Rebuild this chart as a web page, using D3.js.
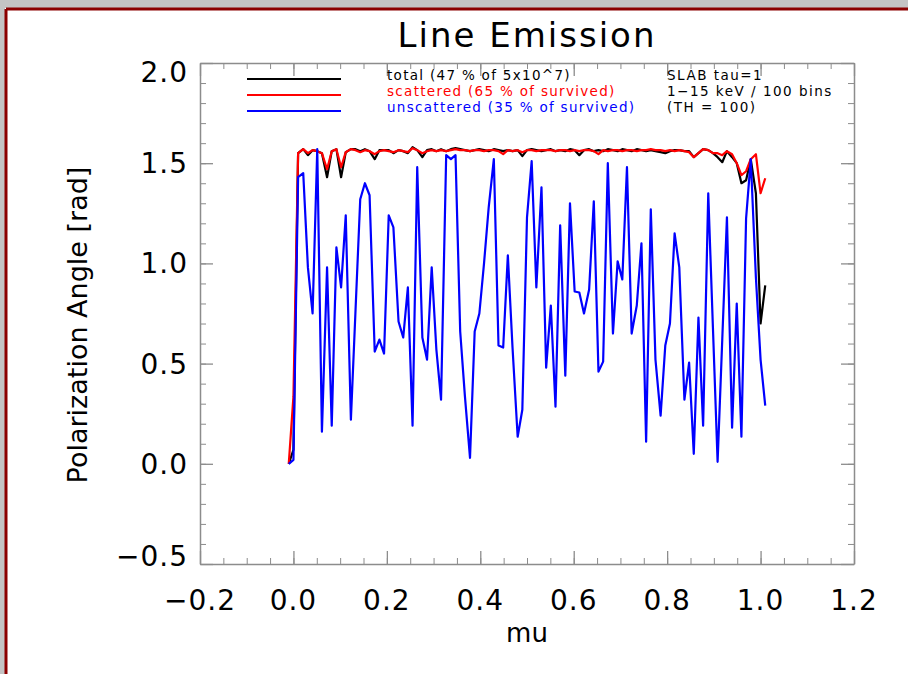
<!DOCTYPE html>
<html>
<head>
<meta charset="utf-8">
<script src="https://cdnjs.cloudflare.com/ajax/libs/d3/7.8.5/d3.min.js"></script>
<style>
  body { margin: 0; background: #c4c4c4; }
  svg { display: block; }
</style>
</head>
<body>
<svg width="908" height="674"></svg>
<script>
// Bin centres in mu (101 bins).
let mu = [
  -0.010, 0.000, 0.010, 0.021, 0.031, 0.041, 0.051, 0.061, 0.072, 0.082,
  0.092, 0.102, 0.112, 0.123, 0.133, 0.143, 0.153, 0.163, 0.174, 0.184,
  0.194, 0.204, 0.214, 0.225, 0.235, 0.245, 0.255, 0.265, 0.276, 0.286,
  0.296, 0.306, 0.316, 0.327, 0.337, 0.347, 0.357, 0.367, 0.378, 0.388,
  0.398, 0.408, 0.418, 0.429, 0.439, 0.449, 0.459, 0.469, 0.480, 0.490,
  0.500, 0.510, 0.520, 0.531, 0.541, 0.551, 0.561, 0.571, 0.582, 0.592,
  0.602, 0.612, 0.622, 0.633, 0.643, 0.653, 0.663, 0.673, 0.684, 0.694,
  0.704, 0.714, 0.724, 0.735, 0.745, 0.755, 0.765, 0.775, 0.786, 0.796,
  0.806, 0.816, 0.826, 0.837, 0.847, 0.857, 0.867, 0.877, 0.888, 0.898,
  0.908, 0.918, 0.928, 0.939, 0.949, 0.959, 0.969, 0.979, 0.990, 1.000,
  1.010
];

// Polarization angle, total.
let total = [
  0.00, 0.07, 1.55, 1.57, 1.54, 1.565, 1.56, 1.55, 1.43, 1.56,
  1.57, 1.43, 1.555, 1.57, 1.57, 1.56, 1.57, 1.56, 1.52, 1.565,
  1.565, 1.565, 1.55, 1.565, 1.56, 1.55, 1.58, 1.565, 1.53, 1.565,
  1.57, 1.56, 1.57, 1.56, 1.57, 1.575, 1.57, 1.565, 1.56, 1.565,
  1.57, 1.565, 1.56, 1.57, 1.565, 1.56, 1.565, 1.56, 1.565, 1.535,
  1.565, 1.57, 1.565, 1.56, 1.565, 1.57, 1.56, 1.565, 1.56, 1.57,
  1.565, 1.54, 1.565, 1.57, 1.56, 1.565, 1.56, 1.57, 1.565, 1.56,
  1.57, 1.565, 1.56, 1.57, 1.565, 1.56, 1.565, 1.56, 1.555, 1.55,
  1.56, 1.565, 1.565, 1.56, 1.56, 1.53, 1.55, 1.57, 1.565, 1.55,
  1.53, 1.505, 1.56, 1.53, 1.50, 1.40, 1.415, 1.52, 1.35, 0.70,
  0.89
];

// Polarization angle, scattered photons.
let scattered = [
  0.00, 0.335, 1.55, 1.57, 1.55, 1.565, 1.56, 1.55, 1.47, 1.56,
  1.57, 1.48, 1.555, 1.57, 1.565, 1.555, 1.565, 1.56, 1.545, 1.56,
  1.565, 1.56, 1.555, 1.565, 1.56, 1.555, 1.575, 1.565, 1.55, 1.56,
  1.565, 1.56, 1.565, 1.56, 1.565, 1.57, 1.565, 1.565, 1.56, 1.565,
  1.565, 1.56, 1.565, 1.565, 1.56, 1.545, 1.565, 1.56, 1.565, 1.555,
  1.565, 1.565, 1.56, 1.565, 1.565, 1.565, 1.56, 1.565, 1.565, 1.56,
  1.565, 1.56, 1.565, 1.565, 1.56, 1.545, 1.565, 1.56, 1.565, 1.565,
  1.56, 1.565, 1.565, 1.56, 1.565, 1.565, 1.57, 1.565, 1.565, 1.56,
  1.565, 1.56, 1.565, 1.56, 1.555, 1.53, 1.55, 1.57, 1.565, 1.55,
  1.55, 1.54, 1.56, 1.545, 1.50, 1.44, 1.46, 1.52, 1.545, 1.35,
  1.425
];

// Polarization angle, unscattered photons.
let unscattered = [
  0.00, 0.02, 1.43, 1.45, 0.98, 0.75, 1.57, 0.16, 0.98, 0.19,
  1.08, 0.88, 1.24, 0.22, 0.77, 1.32, 1.40, 1.34, 0.56, 0.62,
  0.55, 1.24, 1.18, 0.71, 0.63, 0.88, 0.19, 1.48, 0.63, 0.52,
  0.98, 0.57, 0.32, 1.54, 1.52, 1.54, 0.66, 0.34, 0.03, 0.66,
  0.75, 1.00, 1.28, 1.52, 0.59, 0.58, 1.04, 0.58, 0.135, 0.27,
  1.23, 1.51, 0.88, 1.38, 0.48, 0.79, 0.285, 1.19, 0.44, 1.30,
  0.86, 0.855, 0.75, 0.87, 1.31, 0.46, 0.51, 1.50, 0.65, 1.01,
  0.92, 1.48, 0.65, 0.79, 1.10, 0.11, 1.27, 0.52, 0.24, 0.59,
  0.70, 1.15, 0.98, 0.32, 0.505, 0.05, 0.73, 0.19, 1.35, 0.68,
  0.01, 0.62, 1.23, 0.18, 0.80, 0.135, 1.225, 1.52, 0.93, 0.52,
  0.29
];

// Tick values.
let x_ticks = [-0.2, 0.0, 0.2, 0.4, 0.6, 0.8, 1.0, 1.2];
let y_ticks = [-0.5, 0.0, 0.5, 1.0, 1.5, 2.0];

// Legend entries.
let legend_labels = ["total (47 % of 5x10^7)", "scattered (65 % of survived)", "unscattered (35 % of survived)"];
let legend_colours = ["#000000", "#ff0000", "#0000ff"];
let note_lines = ["SLAB tau=1", "1\u221215 keV / 100 bins", "(TH = 100)"];

// Graphical parameters.
let svg = d3.select("svg");
let font = "DejaVu Sans, sans-serif";
let plot = { left: 200, right: 854, top: 63, bottom: 564 };
let axis_colour = "#8c8c8c";

// Window frame: grey margin with dark red edge.
svg.append("rect").attr("x", 0).attr("y", 0).attr("width", 908).attr("height", 674).attr("fill", "#c4c4c4");
svg.append("rect").attr("x", 5).attr("y", 8).attr("width", 903).attr("height", 666).attr("fill", "#ffffff");
svg.append("line").attr("x1", 6).attr("y1", 9).attr("x2", 908).attr("y2", 9)
    .style("stroke", "#8b0000").style("stroke-width", 3);
svg.append("line").attr("x1", 6).attr("y1", 9).attr("x2", 6).attr("y2", 674)
    .style("stroke", "#8b0000").style("stroke-width", 3);

// Scales.
let x = d3.scaleLinear().domain([-0.2, 1.2]).range([plot.left, plot.right]);
let y = d3.scaleLinear().domain([-0.5, 2.0]).range([plot.bottom, plot.top]);

// Axes on all four sides, IDL style: major and minor ticks inward.
let draw_axis = function (axis, offset, minor) {
    let g = svg.append("g").attr("transform", offset);
    g.call(axis);
    g.selectAll("text").remove();
    g.select(".domain").style("stroke", axis_colour).style("stroke-width", 1.5);
    g.selectAll(".tick line").style("stroke", axis_colour).style("stroke-width", minor ? 1 : 1.3);
    if (minor) g.select(".domain").remove();
}

let x_minor = d3.range(-0.2, 1.2001, 0.05);
let y_minor = d3.range(-0.5, 2.0001, 0.1);

draw_axis(d3.axisTop(x).tickValues(x_minor).tickSize(6).tickSizeOuter(0), `translate(0,${plot.bottom})`, true);
draw_axis(d3.axisTop(x).tickValues(x_ticks).tickSize(13).tickSizeOuter(0), `translate(0,${plot.bottom})`, false);
draw_axis(d3.axisBottom(x).tickValues(x_minor).tickSize(6).tickSizeOuter(0), `translate(0,${plot.top})`, true);
draw_axis(d3.axisBottom(x).tickValues(x_ticks).tickSize(13).tickSizeOuter(0), `translate(0,${plot.top})`, false);
draw_axis(d3.axisRight(y).tickValues(y_minor).tickSize(6).tickSizeOuter(0), `translate(${plot.left},0)`, true);
draw_axis(d3.axisRight(y).tickValues(y_ticks).tickSize(13).tickSizeOuter(0), `translate(${plot.left},0)`, false);
draw_axis(d3.axisLeft(y).tickValues(y_minor).tickSize(6).tickSizeOuter(0), `translate(${plot.right},0)`, true);
draw_axis(d3.axisLeft(y).tickValues(y_ticks).tickSize(13).tickSizeOuter(0), `translate(${plot.right},0)`, false);

// Tick labels.
let fmt = function (v) { return d3.format(".1f")(v).replace("-", "\u2212"); }
svg.append("g").selectAll("text").data(x_ticks).join("text")
    .attr("x", d => x(d)).attr("y", 610)
    .attr("text-anchor", "middle")
    .style("font-family", font).style("font-size", "28px").style("letter-spacing", "1px")
    .text(fmt);
// The end labels on the y axis sit a little inside the frame.
let y_label_shift = function (v) {
    if (v == 2.0) return 9;
    if (v == -0.5) return -8;
    return 0;
}
svg.append("g").selectAll("text").data(y_ticks).join("text")
    .attr("x", 188).attr("y", d => y(d) + 10 + y_label_shift(d))
    .attr("text-anchor", "end")
    .style("font-family", font).style("font-size", "28px").style("letter-spacing", "1px")
    .text(fmt);

// Titles.
svg.append("text").attr("x", 527).attr("y", 47).attr("text-anchor", "middle")
    .style("font-family", font).style("font-size", "34px").style("letter-spacing", "2px")
    .text("Line Emission");
svg.append("text").attr("x", 527).attr("y", 642).attr("text-anchor", "middle")
    .style("font-family", font).style("font-size", "26px")
    .text("mu");
svg.append("text").attr("transform", "translate(87,325) rotate(-90)").attr("text-anchor", "middle")
    .style("font-family", font).style("font-size", "27px")
    .text("Polarization Angle [rad]");

// Data lines.
let line_for = function (values) {
    return d3.line().x((d, i) => x(mu[i])).y(d => y(d))(values);
}
let series = [total, scattered, unscattered];
svg.append("g").selectAll("path").data(series).join("path")
    .attr("d", line_for)
    .style("fill", "none")
    .style("stroke", (d, i) => legend_colours[i])
    .style("stroke-width", 2.2)
    .style("stroke-linejoin", "round");

// Legend.
let legend = svg.append("g");
legend_labels.forEach(function (label, i) {
    let ly = 79 + i * 16;
    legend.append("line").attr("x1", 247).attr("x2", 341).attr("y1", ly).attr("y2", ly)
        .style("stroke", legend_colours[i]).style("stroke-width", 2);
    legend.append("text").attr("x", 387).attr("y", ly + 1)
        .style("font-family", font).style("font-size", "13.5px").style("letter-spacing", "1.3px")
        .style("fill", legend_colours[i])
        .text(label);
});
note_lines.forEach(function (label, i) {
    legend.append("text").attr("x", 667).attr("y", 80 + i * 16)
        .style("font-family", font).style("font-size", "13.5px").style("letter-spacing", "1.5px")
        .text(label);
});
</script>
</body>
</html>
